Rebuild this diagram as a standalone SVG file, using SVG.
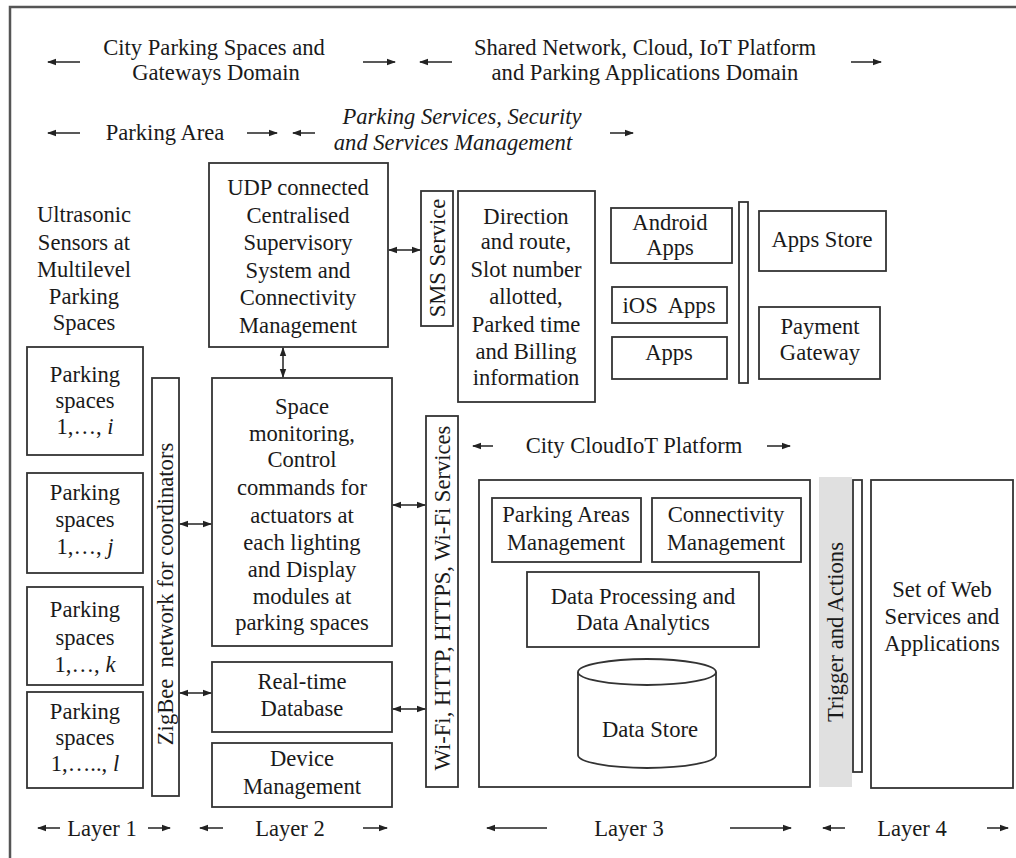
<svg xmlns="http://www.w3.org/2000/svg" width="1016" height="858" viewBox="0 0 1016 858">
<defs>
<marker id="ah" markerUnits="userSpaceOnUse" markerWidth="9" markerHeight="8" refX="8" refY="4" orient="auto-start-reverse"><path d="M0,0.8 L9,4 L0,7.2 z" fill="#222"/></marker>
<style>
.b{fill:#fff;stroke:#333;stroke-width:1.8}
.t{font-family:"Liberation Serif","Times New Roman",serif;font-size:22.6px;fill:#1a1a1a;text-anchor:middle}
.i{font-style:italic}
.p{white-space:pre}
.d{stroke:#222;stroke-width:1.5;fill:none;marker-end:url(#ah)}
.dd{stroke:#222;stroke-width:1.5;fill:none;marker-end:url(#ah);marker-start:url(#ah)}
</style>
</defs>
<rect x="0" y="0" width="1016" height="858" fill="#fff"/>
<rect id="frame" x="10" y="7" width="1010" height="860" fill="none" stroke="#555" stroke-width="2.5"/>

<g id="headings">
<text class="t" x="214" y="55">City Parking Spaces and</text>
<text class="t" x="216" y="80">Gateways Domain</text>
<text class="t" x="645" y="55">Shared Network, Cloud, IoT Platform</text>
<text class="t" x="645" y="80">and Parking Applications Domain</text>
<text class="t" x="165" y="140">Parking Area</text>
<text class="t i" x="462" y="124">Parking Services, Security</text>
<text class="t i" x="453" y="150">and Services Management</text>
<text class="t" x="634" y="453">City CloudIoT Platform</text>
<text class="t" x="102" y="836">Layer 1</text>
<text class="t" x="290" y="836">Layer 2</text>
<text class="t" x="629" y="836">Layer 3</text>
<text class="t" x="912" y="836">Layer 4</text>
</g>

<g id="span-arrows">
<line class="d" x1="80" y1="62" x2="48" y2="62"/>
<line class="d" x1="363" y1="62" x2="395" y2="62"/>
<line class="d" x1="452" y1="62" x2="420" y2="62"/>
<line class="d" x1="851" y1="62" x2="881" y2="62"/>
<line class="d" x1="80" y1="133" x2="48" y2="133"/>
<line class="d" x1="247" y1="133" x2="277" y2="133"/>
<line class="d" x1="315" y1="133" x2="293" y2="133"/>
<line class="d" x1="610" y1="133" x2="633" y2="133"/>
<line class="d" x1="493" y1="446" x2="473" y2="446"/>
<line class="d" x1="767" y1="446" x2="790" y2="446"/>
<line class="d" x1="60" y1="828" x2="38" y2="828"/>
<line class="d" x1="148" y1="828" x2="170" y2="828"/>
<line class="d" x1="223" y1="828" x2="200" y2="828"/>
<line class="d" x1="363" y1="828" x2="387" y2="828"/>
<line class="d" x1="547" y1="828" x2="487" y2="828"/>
<line class="d" x1="730" y1="828" x2="791" y2="828"/>
<line class="d" x1="845" y1="828" x2="823" y2="828"/>
<line class="d" x1="987" y1="828" x2="1008" y2="828"/>
</g>

<g id="ultrasonic">
<text class="t" x="84" y="222">Ultrasonic</text>
<text class="t" x="84" y="250">Sensors at</text>
<text class="t" x="84" y="277">Multilevel</text>
<text class="t" x="84" y="304">Parking</text>
<text class="t" x="84" y="330">Spaces</text>
</g>

<g id="ps-i">
<rect class="b" x="27" y="347" width="116" height="108"/>
<text class="t" x="85" y="382">Parking</text>
<text class="t" x="85" y="408">spaces</text>
<text class="t" x="85" y="434">1,…, <tspan class="i">i</tspan></text>
</g>
<g id="ps-j">
<rect class="b" x="27" y="473" width="116" height="100"/>
<text class="t" x="85" y="500">Parking</text>
<text class="t" x="85" y="527">spaces</text>
<text class="t" x="85" y="554">1,…, <tspan class="i">j</tspan></text>
</g>
<g id="ps-k">
<rect class="b" x="27" y="587" width="116" height="98"/>
<text class="t" x="85" y="617">Parking</text>
<text class="t" x="85" y="645">spaces</text>
<text class="t" x="85" y="672">1,…, <tspan class="i">k</tspan></text>
</g>
<g id="ps-l">
<rect class="b" x="27" y="692" width="116" height="96"/>
<text class="t" x="85" y="719">Parking</text>
<text class="t" x="85" y="745">spaces</text>
<text class="t" x="85" y="771">1,….., <tspan class="i">l</tspan></text>
</g>

<g id="zigbee">
<rect class="b" x="152" y="378" width="27" height="418"/>
<text class="t p" transform="translate(173,594) rotate(-90)">ZigBee  network for coordinators</text>
</g>

<g id="udp">
<rect class="b" x="209" y="163" width="179" height="184"/>
<text class="t" x="298" y="195">UDP connected</text>
<text class="t" x="298" y="223">Centralised</text>
<text class="t" x="298" y="250">Supervisory</text>
<text class="t" x="298" y="278">System and</text>
<text class="t" x="298" y="305">Connectivity</text>
<text class="t" x="298" y="333">Management</text>
</g>

<g id="space">
<rect class="b" x="212" y="378" width="180" height="268"/>
<text class="t" x="302" y="414">Space</text>
<text class="t" x="302" y="441">monitoring,</text>
<text class="t" x="302" y="467">Control</text>
<text class="t" x="302" y="495">commands for</text>
<text class="t" x="302" y="523">actuators at</text>
<text class="t" x="302" y="550">each lighting</text>
<text class="t" x="302" y="577">and Display</text>
<text class="t" x="302" y="604">modules at</text>
<text class="t" x="302" y="630">parking spaces</text>
</g>

<g id="rtdb">
<rect class="b" x="212" y="662" width="180" height="70"/>
<text class="t" x="302" y="689">Real-time</text>
<text class="t" x="302" y="716">Database</text>
</g>

<g id="devmgmt">
<rect class="b" x="212" y="743" width="180" height="64"/>
<text class="t" x="302" y="766">Device</text>
<text class="t" x="302" y="794">Management</text>
</g>

<g id="sms">
<rect class="b" x="421" y="191" width="32" height="135"/>
<text class="t" transform="translate(445,258) rotate(-90)">SMS Service</text>
</g>

<g id="direction">
<rect class="b" x="458" y="191" width="137" height="211"/>
<text class="t" x="526" y="224">Direction</text>
<text class="t" x="526" y="249">and route,</text>
<text class="t" x="526" y="277">Slot number</text>
<text class="t" x="526" y="304">allotted,</text>
<text class="t" x="526" y="332">Parked time</text>
<text class="t" x="526" y="359">and Billing</text>
<text class="t" x="526" y="385">information</text>
</g>

<g id="android">
<rect class="b" x="611" y="208" width="121" height="55"/>
<text class="t" x="670" y="230">Android</text>
<text class="t" x="670" y="255">Apps</text>
</g>
<g id="ios">
<rect class="b" x="612" y="287" width="115" height="36"/>
<text class="t p" x="669" y="313">iOS  Apps</text>
</g>
<g id="apps">
<rect class="b" x="612" y="337" width="115" height="42"/>
<text class="t" x="669" y="360">Apps</text>
</g>
<g id="appbus">
<rect class="b" x="739" y="202" width="9" height="181"/>
</g>
<g id="appstore">
<rect class="b" x="759" y="211" width="127" height="60"/>
<text class="t" x="822" y="247">Apps Store</text>
</g>
<g id="payment">
<rect class="b" x="759" y="307" width="121" height="72"/>
<text class="t" x="820" y="334">Payment</text>
<text class="t" x="820" y="360">Gateway</text>
</g>

<g id="wifi">
<rect class="b" x="426" y="416" width="32" height="371"/>
<text class="t" transform="translate(450,598) rotate(-90)">Wi-Fi, HTTP, HTTPS, Wi-Fi Services</text>
</g>

<g id="cloud">
<rect class="b" x="479" y="480" width="331" height="307"/>
</g>
<g id="pam">
<rect class="b" x="492" y="498" width="149" height="64"/>
<text class="t" x="566" y="522">Parking Areas</text>
<text class="t" x="566" y="550">Management</text>
</g>
<g id="conn">
<rect class="b" x="652" y="498" width="149" height="64"/>
<text class="t" x="726" y="522">Connectivity</text>
<text class="t" x="726" y="550">Management</text>
</g>
<g id="dp">
<rect class="b" x="527" y="572" width="232" height="75"/>
<text class="t" x="643" y="604">Data Processing and</text>
<text class="t" x="643" y="630">Data Analytics</text>
</g>
<g id="datastore">
<path class="b" d="M578,672 L578,755 A69,13 0 0 0 716,755 L716,672"/>
<ellipse class="b" cx="647" cy="672" rx="69" ry="13"/>
<text class="t" x="650" y="737">Data Store</text>
</g>

<g id="trigger">
<rect x="819" y="477" width="33" height="310" fill="#e0e0e0"/>
<text class="t" transform="translate(843,632) rotate(-90)">Trigger and Actions</text>
</g>
<g id="webbus">
<rect class="b" x="853" y="480" width="9" height="292"/>
</g>
<g id="web">
<rect class="b" x="871" y="480" width="142" height="308"/>
<text class="t" x="942" y="597">Set of Web</text>
<text class="t" x="942" y="624">Services and</text>
<text class="t" x="942" y="651">Applications</text>
</g>

<g id="connectors">
<line class="dd" x1="389" y1="250" x2="420" y2="250"/>
<line class="dd" x1="283" y1="348" x2="283" y2="377"/>
<line class="dd" x1="180" y1="524" x2="211" y2="524"/>
<line class="dd" x1="180" y1="693" x2="211" y2="693"/>
<line class="dd" x1="393" y1="505" x2="425" y2="505"/>
<line class="dd" x1="393" y1="709" x2="425" y2="709"/>
</g>
</svg>
